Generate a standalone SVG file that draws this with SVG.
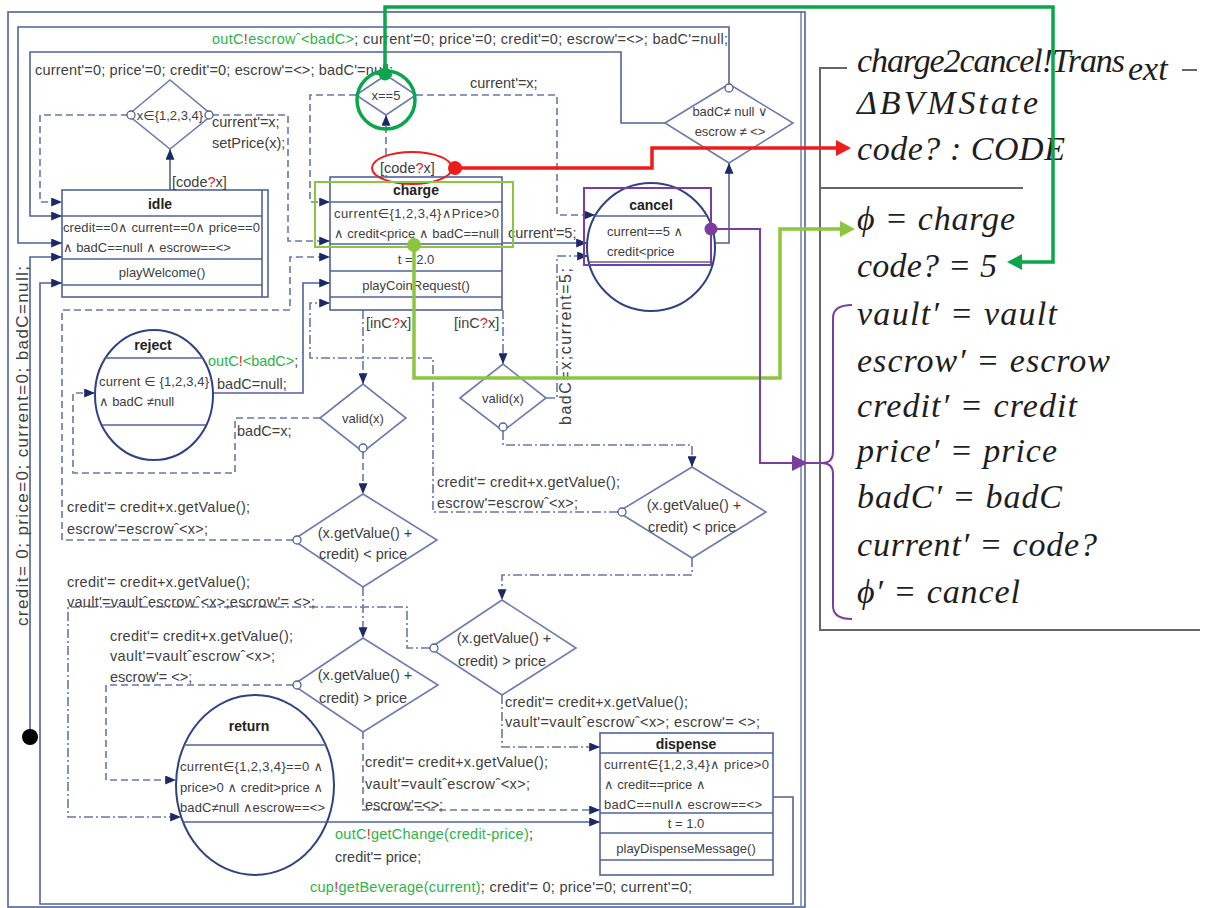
<svg xmlns="http://www.w3.org/2000/svg" width="1206" height="908" viewBox="0 0 1206 908">
<defs>
<style>
.ln{fill:none;stroke:#4f6398;stroke-width:1.6}
.ds{stroke-dasharray:7 4;stroke:#6678a8}
.dd{stroke-dasharray:9 3 2 3;stroke:#6678a8}
.t{font-family:"Liberation Sans",Arial,"DejaVu Sans",sans-serif;font-size:14.5px;fill:#404040}
.s{font-size:13px}
.c{text-anchor:middle}
.b{font-weight:bold;font-size:14px;fill:#222}
.g{fill:#2db34a}
.r{fill:#e32322}
.z{font-family:"Liberation Serif","DejaVu Serif",serif;font-style:italic;font-size:34px;fill:#1e1e1e}
.dia{fill:#fff;stroke:#6a7cb0;stroke-width:1.6}
.st{fill:#fff;stroke:#2f4382;stroke-width:2}
.bx{fill:#fff;stroke:#4f6398;stroke-width:1.6}
.sep{stroke:#4f6398;stroke-width:1.6}
.oc{fill:#fff;stroke:#4f6398;stroke-width:1.3}
.zl{stroke:#666;stroke-width:2;fill:none}
</style>
<marker id="a" viewBox="0 0 12 10" refX="12" refY="5" markerWidth="12" markerHeight="9" markerUnits="userSpaceOnUse" orient="auto"><path d="M0,0 L12,5 L0,10 z" fill="#1b2a66"/></marker>
</defs>
<rect width="1206" height="908" fill="#fff"/>

<!-- frame -->
<rect x="8" y="12" width="797" height="895" fill="none" stroke="#4f6398" stroke-width="1.6"/>
<line x1="801" y1="12" x2="801" y2="906" stroke="#4f6398" stroke-width="1.2"/>

<!-- connectors -->
<g id="connectors">
<path class="ln" d="M729,87 V27 H18 V243 H62" marker-end="url(#a)"/>
<path class="ln" d="M665,123 H621 V52 H30 V216 H62" marker-end="url(#a)"/>
<path class="ln" d="M30,737 V257 H62" marker-end="url(#a)"/>
<path class="ln" d="M773,797 H793 V904 H40 V283 H62" marker-end="url(#a)"/>
<path class="ln ds" d="M128,115 H40 V202 H62" marker-end="url(#a)"/>
<path class="ln" d="M170,190 V149" marker-end="url(#a)"/>
<path class="ln ds" d="M212,115 H288 V241 H330" marker-end="url(#a)"/>
<path class="ln ds" d="M386,177 V115" marker-end="url(#a)"/>
<path class="ln ds" d="M356,95 H310 V202 H330" marker-end="url(#a)"/>
<path class="ln ds" d="M416,95 H557 V215 H595" marker-end="url(#a)"/>
<path class="ln" d="M502,243 H587" marker-end="url(#a)"/>
<path class="ln" d="M714,243 H729 V163" marker-end="url(#a)"/>
<path class="ln" d="M213,393 H303 V283 H330" marker-end="url(#a)"/>
<path class="ln ds" d="M293,540 H62 V310 H290 V257 H330" marker-end="url(#a)"/>
<path class="ln dd" d="M618,512 H433 V358 H310 V303 H330" marker-end="url(#a)"/>
<path class="ln dd" d="M363,310 V384" marker-end="url(#a)"/>
<path class="ln dd" d="M503,310 V364" marker-end="url(#a)"/>
<path class="ln ds" d="M320,418 H235 V473 H73 V393 H95" marker-end="url(#a)"/>
<path class="ln ds" d="M363,452 V494" marker-end="url(#a)"/>
<path class="ln dd" d="M546,398 H557 V256 H588" marker-end="url(#a)"/>
<path class="ln dd" d="M503,431 V445 H692 V467" marker-end="url(#a)"/>
<path class="ln dd" d="M692,558 V575 H502 V600" marker-end="url(#a)"/>
<path class="ln dd" d="M363,587 V638" marker-end="url(#a)"/>
<path class="ln dd" d="M430,648 H407 V607 H68 V817 H181" marker-end="url(#a)"/>
<path class="ln ds" d="M293,685 H106 V780 H176" marker-end="url(#a)"/>
<path class="ln ds" d="M363,732 V810 H600" marker-end="url(#a)"/>
<path class="ln dd" d="M502,695 V747 H600" marker-end="url(#a)"/>
<path class="ln" d="M327,822 H600" marker-end="url(#a)"/>
<circle cx="30" cy="737" r="8" fill="#000"/>
</g>

<!-- nodes -->
<g id="idle">
<rect class="bx" x="62" y="190" width="206" height="107"/>
<line class="sep" x1="262" y1="190" x2="262" y2="297"/>
<line class="sep" x1="62" y1="216" x2="262" y2="216"/>
<line class="sep" x1="62" y1="259" x2="262" y2="259"/>
<line class="sep" x1="62" y1="285" x2="262" y2="285"/>
<text class="t b c" x="160" y="209">idle</text>
<text class="t s" x="63" y="232" textLength="197">credit==0∧ current==0∧ price==0</text>
<text class="t s" x="63" y="252">∧ badC==null ∧ escrow==&lt;&gt;</text>
<text class="t s c" x="162" y="277">playWelcome()</text>
</g>

<g id="charge">
<rect class="bx" x="330" y="177" width="172" height="133"/>
<line class="sep" x1="330" y1="202" x2="502" y2="202"/>
<line class="sep" x1="330" y1="244" x2="502" y2="244"/>
<line class="sep" x1="330" y1="271" x2="502" y2="271"/>
<line class="sep" x1="330" y1="297" x2="502" y2="297"/>
<text class="t b c" x="416" y="195">charge</text>
<text class="t s" x="334" y="218" textLength="165">current∈{1,2,3,4}∧Price&gt;0</text>
<text class="t s" x="334" y="238" textLength="165">∧ credit&lt;price ∧ badC==null</text>
<text class="t s c" x="416" y="264">t = 2.0</text>
<text class="t s c" x="416" y="290">playCoinRequest()</text>
</g>

<g id="cancel">
<circle class="st" cx="651" cy="247" r="64"/>
<line class="sep" x1="595" y1="216" x2="707" y2="216"/>
<line class="sep" x1="589" y1="262" x2="713" y2="262"/>
<text class="t b c" x="651" y="210">cancel</text>
<text class="t s" x="607" y="236">current==5 ∧</text>
<text class="t s" x="607" y="256">credit&lt;price</text>
</g>

<g id="reject">
<ellipse class="st" cx="154" cy="395" rx="59" ry="65"/>
<line class="sep" x1="105" y1="358" x2="203" y2="358"/>
<line class="sep" x1="102" y1="425" x2="206" y2="425"/>
<text class="t b c" x="153" y="350">reject</text>
<text class="t s" x="99" y="386" textLength="110">current ∈ {1,2,3,4}</text>
<text class="t s" x="99" y="406">∧ badC ≠null</text>
</g>

<g id="return">
<ellipse class="st" cx="255" cy="785" rx="79" ry="90"/>
<line class="sep" x1="184" y1="745" x2="326" y2="745"/>
<line class="sep" x1="183" y1="822" x2="327" y2="822"/>
<text class="t b c" x="249" y="731">return</text>
<text class="t s" x="180" y="771" textLength="143">current∈{1,2,3,4}==0 ∧</text>
<text class="t s" x="180" y="792" textLength="143">price&gt;0 ∧ credit&gt;price ∧</text>
<text class="t s" x="180" y="812" textLength="145">badC≠null ∧escrow==&lt;&gt;</text>
</g>

<g id="dispense">
<rect class="bx" x="600" y="733" width="173" height="142"/>
<line class="sep" x1="600" y1="753" x2="773" y2="753"/>
<line class="sep" x1="600" y1="813" x2="773" y2="813"/>
<line class="sep" x1="600" y1="833" x2="773" y2="833"/>
<line class="sep" x1="600" y1="860" x2="773" y2="860"/>
<text class="t b c" x="686" y="749">dispense</text>
<text class="t s" x="604" y="769" textLength="165">current∈{1,2,3,4}∧ price&gt;0</text>
<text class="t s" x="604" y="789">∧ credit==price ∧</text>
<text class="t s" x="604" y="809" textLength="158">badC==null∧ escrow==&lt;&gt;</text>
<text class="t s c" x="686" y="828">t = 1.0</text>
<text class="t s c" x="686" y="853">playDispenseMessage()</text>
</g>

<g id="d_code"><polygon class="dia" points="128,115 170,80 212,115 170,149"/><text class="t s c" x="170" y="120">x∈{1,2,3,4}</text></g>
<g id="d_x5"><polygon class="dia" points="356,95 386,75 416,95 386,115"/><text class="t s c" x="386" y="100">x==5</text></g>
<g id="d_bad"><polygon class="dia" points="665,123 729,84 793,123 729,163"/><text class="t s c" x="730" y="116">badC≠ null ∨</text><text class="t s c" x="730" y="136">escrow ≠ &lt;&gt;</text></g>
<g id="d_valid1"><polygon class="dia" points="320,418 363,384 406,418 363,452"/><text class="t s c" x="363" y="423">valid(x)</text></g>
<g id="d_valid2"><polygon class="dia" points="460,398 503,364 546,398 503,431"/><text class="t s c" x="503" y="403">valid(x)</text></g>
<g id="d_less1"><polygon class="dia" points="293,540 363,494 437,540 363,587"/><text class="t c" x="365" y="538">(x.getValue() +</text><text class="t c" x="363" y="559">credit) &lt; price</text></g>
<g id="d_less2"><polygon class="dia" points="618,512 692,467 766,512 692,558"/><text class="t c" x="694" y="510">(x.getValue() +</text><text class="t c" x="692" y="532">credit) &lt; price</text></g>
<g id="d_more2"><polygon class="dia" points="430,648 502,600 576,648 502,695"/><text class="t c" x="504" y="643">(x.getValue() +</text><text class="t c" x="502" y="666">credit) &gt; price</text></g>
<g id="d_more1"><polygon class="dia" points="293,685 363,638 438,685 363,732"/><text class="t c" x="365" y="680">(x.getValue() +</text><text class="t c" x="363" y="703">credit) &gt; price</text></g>

<g id="branch-dots">
<circle class="oc" cx="209" cy="115" r="4"/>
<circle class="oc" cx="131" cy="115" r="4"/>
<circle class="oc" cx="729" cy="88" r="4"/>
<circle class="oc" cx="363" cy="448" r="4"/>
<circle class="oc" cx="503" cy="427" r="4"/>
<circle class="oc" cx="297" cy="540" r="4"/>
<circle class="oc" cx="622" cy="512" r="4"/>
<circle class="oc" cx="434" cy="648" r="4"/>
<circle class="oc" cx="297" cy="685" r="4"/>
</g>

<!-- labels -->
<g id="labels">
<text class="t" x="212" y="44" textLength="516"><tspan class="g">outC</tspan><tspan class="r">!</tspan><tspan class="g">escrowˆ&lt;badC&gt;</tspan>; current'=0; price'=0; credit'=0; escrow'=&lt;&gt;; badC'=null;</text>
<text class="t" x="35" y="75" textLength="358">current'=0; price'=0; credit'=0; escrow'=&lt;&gt;; badC'=null;</text>
<text class="t" x="172" y="187">[code<tspan class="r">?</tspan>x]</text>
<rect x="378" y="158" width="68" height="17" fill="#fff"/>
<text class="t" x="380" y="173">[code<tspan class="r">?</tspan>x]</text>
<text class="t" x="212" y="127">current'=x;</text>
<text class="t" x="212" y="148">setPrice(x);</text>
<text class="t" x="470" y="88">current'=x;</text>
<text class="t" x="508" y="238">current'=5;</text>
<text class="t" x="366" y="328">[inC<tspan class="r">?</tspan>x]</text>
<text class="t" x="454" y="328">[inC<tspan class="r">?</tspan>x]</text>
<text class="t" x="208" y="366"><tspan class="g">outC</tspan><tspan class="r">!</tspan><tspan class="g">&lt;badC&gt;</tspan>;</text>
<text class="t" x="217" y="389">badC=null;</text>
<text class="t" x="237" y="436">badC=x;</text>
<text class="t" x="67" y="512" textLength="183">credit'= credit+x.getValue();</text>
<text class="t" x="67" y="534" textLength="141">escrow'=escrowˆ&lt;x&gt;;</text>
<text class="t" x="437" y="487" textLength="183">credit'= credit+x.getValue();</text>
<text class="t" x="437" y="508" textLength="141">escrow'=escrowˆ&lt;x&gt;;</text>
<text class="t" x="67" y="587" textLength="183">credit'= credit+x.getValue();</text>
<text class="t" x="67" y="607" textLength="248">vault'=vaultˆescrowˆ&lt;x&gt;;escrow'= &lt;&gt;;</text>
<text class="t" x="110" y="641" textLength="183">credit'= credit+x.getValue();</text>
<text class="t" x="110" y="661" textLength="165">vault'=vaultˆescrowˆ&lt;x&gt;;</text>
<text class="t" x="110" y="682">escrow'= &lt;&gt;;</text>
<text class="t" x="505" y="707" textLength="183">credit'= credit+x.getValue();</text>
<text class="t" x="505" y="727" textLength="255">vault'=vaultˆescrowˆ&lt;x&gt;; escrow'= &lt;&gt;;</text>
<text class="t" x="365" y="767" textLength="183">credit'= credit+x.getValue();</text>
<text class="t" x="365" y="789" textLength="165">vault'=vaultˆescrowˆ&lt;x&gt;;</text>
<text class="t" x="365" y="810">escrow'=&lt;&gt;;</text>
<text class="t" x="335" y="839" textLength="198"><tspan class="g">outC</tspan><tspan class="r">!</tspan><tspan class="g">getChange(credit-price)</tspan>;</text>
<text class="t" x="335" y="862">credit'= price;</text>
<text class="t" x="310" y="892" textLength="382"><tspan class="g">cup</tspan><tspan class="r">!</tspan><tspan class="g">getBeverage(current)</tspan>;  credit'= 0; price'=0; current'=0;</text>
<text class="t" transform="translate(28,626) rotate(-90)" style="font-size:17px" textLength="360">credit= 0; price=0; current=0; badC=null;</text>
<text class="t" transform="translate(571,425) rotate(-90)" style="font-size:16px" textLength="157">badC=x;current=5;</text>
</g>

<!-- Z schema -->
<g id="schema">
<path class="zl" d="M847,68 H820 V630 H1200"/>
<line class="zl" x1="1182" y1="70" x2="1197" y2="70"/>
<line class="zl" x1="820" y1="188" x2="1023" y2="188"/>
<text class="z" x="857" y="72" textLength="268">charge2cancel!Trans</text>
<text class="z" x="1128" y="80" font-size="23">ext</text>
<text class="z" x="857" y="114" textLength="181">ΔBVMState</text>
<text class="z" x="857" y="160" textLength="208">code? : CODE</text>
<text class="z" x="857" y="230" textLength="158">ϕ = charge</text>
<text class="z" x="857" y="277" textLength="140">code? = 5</text>
<text class="z" x="857" y="325" textLength="200">vault′ = vault</text>
<text class="z" x="857" y="372" textLength="253">escrow′ = escrow</text>
<text class="z" x="857" y="417" textLength="220">credit′ = credit</text>
<text class="z" x="857" y="462" textLength="200">price′ = price</text>
<text class="z" x="857" y="508" textLength="205">badC′ = badC</text>
<text class="z" x="857" y="556" textLength="240">current′ = code?</text>
<text class="z" x="857" y="603" textLength="163">ϕ′ = cancel</text>
</g>

<!-- annotation overlays -->
<g id="overlay-green">
<circle cx="386" cy="100" r="29" fill="none" stroke="#0aa64b" stroke-width="3.5"/>
<path d="M385,74 V7 H1053 V262 H1020" fill="none" stroke="#0aa64b" stroke-width="3.5"/>
<polygon points="1022,254 1007,262 1022,270" fill="#0aa64b"/>
<circle cx="385" cy="74" r="6.5" fill="#0aa64b"/>
</g>
<g id="overlay-red">
<ellipse cx="412" cy="168" rx="40" ry="16" fill="none" stroke="#ee1c1c" stroke-width="2"/>
<path d="M455,168 H652 V148 H838" fill="none" stroke="#ee1c1c" stroke-width="3.5"/>
<polygon points="836,140 851,148 836,156" fill="#ee1c1c"/>
<circle cx="455" cy="168" r="7" fill="#ee1c1c"/>
</g>
<g id="overlay-lightgreen">
<rect x="315" y="182" width="198" height="65" fill="none" stroke="#8cc63f" stroke-width="2"/>
<path d="M414,245 V378 H780 V229 H842" fill="none" stroke="#8cc63f" stroke-width="3.5"/>
<polygon points="840,221 855,229 840,237" fill="#8cc63f"/>
<circle cx="414" cy="245" r="7" fill="#8cc63f"/>
</g>
<g id="overlay-purple">
<rect x="584" y="188" width="127" height="77" fill="none" stroke="#7a3ea1" stroke-width="2"/>
<path d="M711,229 H760 V463 H822" fill="none" stroke="#7a3ea1" stroke-width="2"/>
<polygon points="792,455 808,463 792,471" fill="#7a3ea1"/>
<path d="M852,305 Q833,305 833,318 V452 Q833,463 822,463 Q833,463 833,474 V606 Q833,619 852,619" fill="none" stroke="#7a3ea1" stroke-width="2"/>
<circle cx="711" cy="229" r="6.5" fill="#7a3ea1"/>
</g>
</svg>
